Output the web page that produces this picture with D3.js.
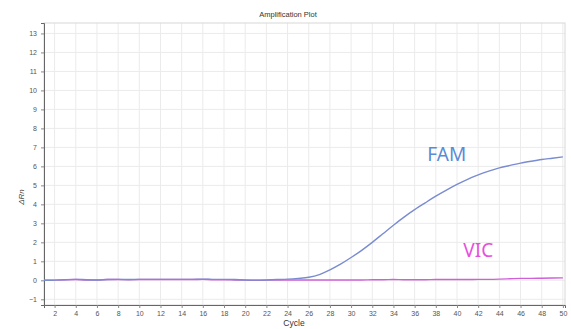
<!DOCTYPE html>
<html>
<head>
<meta charset="utf-8">
<script src="https://cdn.jsdelivr.net/npm/d3@7.9.0/dist/d3.min.js"></script>
<style>
  body { margin: 0; background: #fff; }
  svg { display: block; font-family: "Liberation Sans", Arial, sans-serif; }
</style>
</head>
<body>
<svg id="chart" width="571" height="329"></svg>
<script>
// cycles 1..50
const cycles = d3.range(1, 51);
const famValues = [
  0.0, 0.01, 0.03, 0.05, 0.03, 0.02, 0.04, 0.05, 0.04, 0.05,
  0.05, 0.05, 0.05, 0.05, 0.05, 0.06, 0.05, 0.05, 0.04, 0.02,
  0.01, 0.02, 0.04, 0.06, 0.1, 0.16, 0.3, 0.55, 0.85, 1.2,
  1.58, 2.0, 2.45, 2.9, 3.33, 3.72, 4.08, 4.43, 4.75, 5.05,
  5.32, 5.55, 5.75, 5.92, 6.05, 6.17, 6.27, 6.36, 6.43, 6.5
];
const vicValues = [
  0.0, 0.01, 0.03, 0.04, 0.02, 0.02, 0.04, 0.04, 0.03, 0.04,
  0.04, 0.04, 0.04, 0.04, 0.04, 0.05, 0.03, 0.03, 0.02, 0.01,
  0.0, 0.01, 0.02, 0.02, 0.02, 0.02, 0.02, 0.02, 0.02, 0.02,
  0.02, 0.03, 0.03, 0.04, 0.03, 0.03, 0.03, 0.04, 0.04, 0.04,
  0.04, 0.05, 0.05, 0.06, 0.08, 0.1, 0.1, 0.11, 0.12, 0.13
];
const xTicks = d3.range(2, 51, 2);
const yTicks = d3.range(-1, 14);

const svg = d3.select("#chart");
const margin = { left: 44, top: 23, right: 6, bottom: 24 };
const width = 571, height = 329;

const x = d3.scaleLinear().domain([1, 50.2]).range([margin.left, width - margin.right]);
const y = d3.scaleLinear().domain([-1.3, 13.55]).range([height - margin.bottom, margin.top]);

// grid
svg.append("g").selectAll("line.v")
  .data(xTicks)
  .enter().append("line")
  .attr("x1", d => x(d)).attr("x2", d => x(d))
  .attr("y1", y.range()[1]).attr("y2", y.range()[0])
  .attr("stroke", "#ebebeb").attr("stroke-width", 1);

svg.append("g").selectAll("line.h")
  .data(yTicks)
  .enter().append("line")
  .attr("x1", x.range()[0]).attr("x2", x.range()[1])
  .attr("y1", d => y(d)).attr("y2", d => y(d))
  .attr("stroke", "#ebebeb").attr("stroke-width", 1);

// frame
svg.append("rect")
  .attr("x", x.range()[0]).attr("y", y.range()[1])
  .attr("width", x.range()[1] - x.range()[0])
  .attr("height", y.range()[0] - y.range()[1])
  .attr("fill", "none").attr("stroke", "#d8d8d8");

// axes
const xAxis = svg.append("g")
  .attr("transform", `translate(0,${y.range()[0]})`)
  .call(d3.axisBottom(x).tickValues(xTicks).tickSize(3).tickPadding(3));
const yAxis = svg.append("g")
  .attr("transform", `translate(${x.range()[0]},0)`)
  .call(d3.axisLeft(y).tickValues(yTicks).tickSize(3).tickPadding(4));

[xAxis, yAxis].forEach(g => {
  g.select(".domain").attr("stroke", "#666");
  g.selectAll(".tick line").attr("stroke", "#888");
  g.selectAll(".tick text").attr("fill", "#555").style("font-size", "7px");
});

// lines
const line = d3.line()
  .x((d, i) => x(cycles[i]))
  .y(d => y(d))
  .curve(d3.curveMonotoneX);

svg.append("path")
  .datum(vicValues)
  .attr("d", line)
  .attr("fill", "none")
  .attr("stroke", "#d060d8")
  .attr("stroke-width", 1.4);

svg.append("path")
  .datum(famValues)
  .attr("d", line)
  .attr("fill", "none")
  .attr("stroke", "#7a8cd0")
  .attr("stroke-width", 1.4);

// titles
svg.append("text")
  .attr("x", 288).attr("y", 17)
  .attr("text-anchor", "middle")
  .attr("fill", "#333").style("font-size", "7.5px")
  .text("Amplification Plot");

svg.append("text")
  .attr("x", 294).attr("y", 326)
  .attr("text-anchor", "middle")
  .attr("fill", "#333").style("font-size", "8.5px")
  .text("Cycle");

svg.append("text")
  .attr("transform", "translate(24,197) rotate(-90)")
  .attr("text-anchor", "middle")
  .attr("fill", "#444").style("font-size", "8px")
  .style("font-style", "italic")
  .text("ΔRn");

// series labels
svg.append("text")
  .attr("x", x(37.2)).attr("y", y(6.3))
  .attr("fill", "#5b8ad6")
  .style("font-family", "'Noto Sans', sans-serif")
  .style("font-size", "19px")
  .text("FAM");

svg.append("text")
  .attr("x", x(40.6)).attr("y", y(1.25))
  .attr("fill", "#e84fe0")
  .style("font-family", "'Noto Sans', sans-serif")
  .style("font-size", "19px")
  .text("VIC");
</script>
</body>
</html>
